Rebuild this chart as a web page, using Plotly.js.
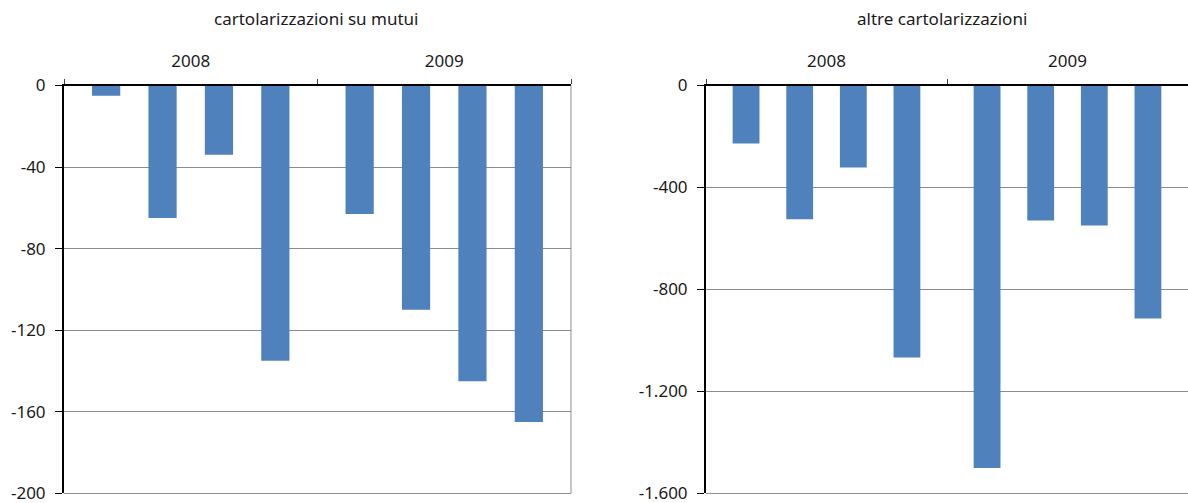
<!DOCTYPE html>
<html>
<head>
<meta charset="utf-8">
<script src="https://cdn.plot.ly/plotly-3.0.1.min.js"></script>
<style>
  html, body { margin: 0; padding: 0; background: #ffffff; }
  #chart { width: 1188px; height: 503px; }
</style>
</head>
<body>
<div id="chart"></div>
<script>
// ---- data ----
const years = ["2008", "2009"];
const quarters = ["I trim.", "II trim.", "III trim.", "IV trim."];

// cartolarizzazioni su mutui (by quarter)
const mutui2008 = [-5, -65, -34, -135];
const mutui2009 = [-63, -110, -145, -165];

// altre cartolarizzazioni (by quarter)
const altre2008 = [-227, -525, -322, -1067];
const altre2009 = [-1500, -529, -549, -914];

const leftTickVals = [0, -40, -80, -120, -160, -200];
const leftTickText = ["0", "-40", "-80", "-120", "-160", "-200"];
const rightTickVals = [0, -400, -800, -1200, -1600];
const rightTickText = ["0", "-400", "-800", "-1.200", "-1.600"];

const titleLeft = "cartolarizzazioni su mutui";
const titleRight = "altre cartolarizzazioni";

// ---- style ----
const barColor = "#4f81bd";
const fontFam = "'Noto Sans', 'Open Sans', sans-serif";
const txtColor = "#1a1a1a";
const gridColor = "#8c8c8c";

const traces = [];
quarters.forEach((q, k) => {
  traces.push({
    type: "bar", name: q, x: years, y: [mutui2008[k], mutui2009[k]],
    xaxis: "x", yaxis: "y", marker: { color: barColor }, showlegend: false
  });
});
quarters.forEach((q, k) => {
  traces.push({
    type: "bar", name: q, x: years, y: [altre2008[k], altre2009[k]],
    xaxis: "x2", yaxis: "y2", marker: { color: barColor }, showlegend: false
  });
});

function xAxis(domain, anchor) {
  return {
    domain: domain, anchor: anchor, type: "category", side: "top",
    tickson: "boundaries", ticks: "outside", ticklen: 5, tickcolor: "#444", tickwidth: 1,
    showline: true, linecolor: "#000", linewidth: 2, showgrid: false, zeroline: false,
    tickfont: { family: fontFam, size: 17, color: txtColor }, automargin: false,
    ticklabelstandoff: 10, ticklabeloverflow: "allow", fixedrange: true
  };
}
function yAxis(domain, anchor, range, vals, text) {
  return {
    domain: domain, anchor: anchor, range: range, tickmode: "array",
    tickvals: vals, ticktext: text, ticks: "outside", ticklen: 7, tickcolor: "#000",
    tickwidth: 1, showline: true, linecolor: "#000", linewidth: 2,
    showgrid: true, gridcolor: gridColor, gridwidth: 1, zeroline: false,
    tickfont: { family: fontFam, size: 17, color: txtColor }, automargin: false,
    ticklabelstandoff: 6, ticklabeloverflow: "allow", fixedrange: true
  };
}

const yDom = [0.019, 0.830];
const layout = {
  width: 1188, height: 503,
  margin: { l: 0, r: 0, t: 0, b: 0 },
  paper_bgcolor: "#ffffff", plot_bgcolor: "#ffffff",
  barmode: "group", bargap: 0.11, bargroupgap: 0.5,
  font: { family: fontFam, size: 17, color: txtColor },
  xaxis: xAxis([64 / 1188, 571 / 1188], "y"),
  yaxis: yAxis(yDom, "x", [-200, 0], leftTickVals, leftTickText),
  xaxis2: xAxis([706 / 1188, 1], "y2"),
  yaxis2: yAxis(yDom, "x2", [-1600, 0], rightTickVals, rightTickText),
  annotations: [
    { text: titleLeft, xref: "paper", yref: "paper", x: 316 / 1188, y: 1 - 18 / 503,
      showarrow: false, xanchor: "center", yanchor: "middle",
      font: { family: fontFam, size: 17, color: txtColor } },
    { text: titleRight, xref: "paper", yref: "paper", x: 942 / 1188, y: 1 - 18 / 503,
      showarrow: false, xanchor: "center", yanchor: "middle",
      font: { family: fontFam, size: 17, color: txtColor } }
  ],
  shapes: [
    { type: "line", xref: "x domain", yref: "y domain", x0: 1, x1: 1, y0: 0, y1: 1,
      line: { color: gridColor, width: 1 } },
    { type: "line", xref: "x domain", yref: "y domain", x0: 0, x1: 1, y0: 0, y1: 0,
      line: { color: gridColor, width: 1 } },
    { type: "line", xref: "x2 domain", yref: "y2 domain", x0: 0, x1: 1, y0: 0, y1: 0,
      line: { color: gridColor, width: 1 } }
  ]
};

Plotly.newPlot("chart", traces, layout, { displayModeBar: false, staticPlot: true });
</script>
</body>
</html>
